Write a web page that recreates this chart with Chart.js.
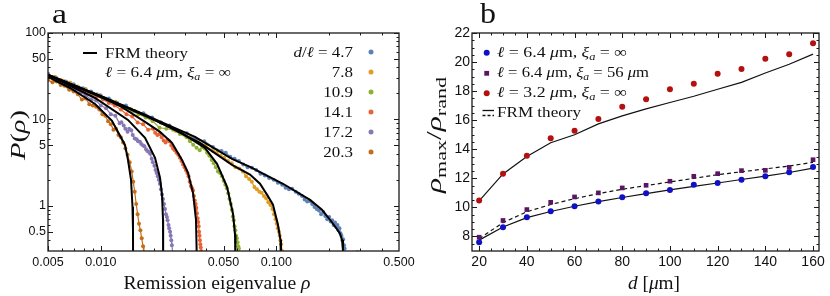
<!DOCTYPE html>
<html><head><meta charset="utf-8">
<script src="https://cdn.jsdelivr.net/npm/chart.js@4.4.1/dist/chart.umd.min.js"></script>
<style>
html,body{margin:0;padding:0;background:#fff;}
#wrap{position:relative;width:830px;height:296px;overflow:hidden;background:#fff;}
canvas{position:absolute;top:0;}
#ca{left:0;} #cb{left:415px;}
</style></head><body>
<div id="wrap"><canvas id="ca" width="415" height="296"></canvas><canvas id="cb" width="415" height="296"></canvas></div>
<script>
// ---------- Panel a : remission eigenvalue distributions ----------
const seriesLabels = ['4.7','7.8','10.9','14.1','17.2','20.3'];
const seriesColors = ['#5E81B5','#E19C24','#8FB032','#EB6235','#8778B3','#C56E1A'];

const rho47 = [0.0050,0.0056,0.0063,0.0070,0.0079,0.0088,0.0099,0.0111,0.0124,0.0139,0.0156,0.0175,0.0196,0.0220,0.0246,0.0276,0.0309,0.0346,0.0388,0.0435,
  0.0487,0.0515,0.0546,0.0578,0.0612,0.0648,0.0686,0.0726,0.0768,0.0812,0.0860,0.091,0.0965,0.102,0.108,0.113,0.118,0.123,0.129,0.134,0.140,0.145,0.150,0.155,0.160,0.165,0.170,0.175,0.180,0.185,0.190,0.195,0.200,0.204,0.208,0.212,0.216,0.220,0.223,0.226,0.229,0.232,0.235,0.238,0.240,0.243,0.245,0.250,0.290];
const p47   = [33.5,30.0,27.5,25.5,23.0,21.0,19.0,17.5,15.5,14.5,12.5,11.8,10.5,9.2,8.5,7.4,6.9,6.0,5.6,4.8,
  4.3,4.1,3.7,3.5,3.3,3.0,2.8,2.75,2.6,2.35,2.25,2.1,2.0,1.85,1.75,1.62,1.55,1.58,1.45,1.38,1.30,1.18,1.12,1.14,1.05,0.97,0.92,0.88,0.80,0.85,0.76,0.70,0.74,0.66,0.68,0.60,0.64,0.57,0.60,0.52,0.55,0.48,0.45,0.40,0.41,0.35,0.32,0.27,0.29];

const rho78 = [0.0050,0.0055,0.0061,0.0067,0.0074,0.0082,0.0090,0.0100,0.0110,0.0121,0.0134,0.0148,0.0163,0.0180,0.0199,0.0219,0.0242,0.0267,0.0294,0.0325,0.0358,0.0395,
  0.0436,0.0458,0.0481,0.0505,0.0530,0.0557,0.0585,0.0615,0.0645,0.0672,0.0700,0.0725,0.0750,0.0775,0.0800,0.0825,0.0850,0.0875,0.0900,0.0925,0.0950,0.0970,0.0990,0.1005,0.1020,0.1035,0.1045,0.1055,0.1065,0.1080];
const p78   = [33.0,31.0,28.0,26.5,24.0,22.5,20.0,18.8,17.0,16.0,14.0,13.2,12.0,11.2,10.0,9.2,8.4,7.4,6.9,6.2,5.6,5.0,
  4.3,4.1,3.8,3.6,3.3,3.1,2.8,2.7,2.5,2.2,2.05,1.9,1.65,1.55,1.45,1.42,1.30,1.22,1.10,1.02,0.92,0.80,0.70,0.62,0.55,0.50,0.45,0.40,0.36,0.30];

const rho109 = [0.0050,0.0055,0.0060,0.0066,0.0072,0.0079,0.0087,0.0095,0.0104,0.0114,0.0125,0.0137,0.0150,0.0164,0.0180,0.0197,0.0216,0.0236,0.0258,0.0282,
  0.0308,0.0322,0.0336,0.0351,0.0366,0.0378,0.0390,0.0403,0.0415,0.0428,0.0440,0.0452,0.0465,0.0478,0.0490,0.0501,0.0512,0.0522,0.0532,0.0541,0.0550,0.0558,0.0565,0.0572,0.0578,0.0584,0.0590,0.0596,0.0602,0.0607,0.0612,0.0620];
const p109   = [32.5,30.5,28.0,26.5,24.0,22.5,20.5,19.5,17.5,16.5,15.0,13.5,12.5,11.5,10.5,9.6,8.0,7.8,7.6,6.8,
  6.2,5.6,5.1,4.7,4.4,4.8,4.6,4.1,3.8,3.4,3.1,2.8,2.5,2.4,2.2,1.95,1.75,1.6,1.40,1.2,1.05,0.9,0.75,0.68,0.58,0.52,0.45,0.42,0.38,0.34,0.32,0.28];

const rho141 = [0.0050,0.0054,0.0059,0.0064,0.0069,0.0075,0.0081,0.0088,0.0095,0.0103,0.0111,0.0120,0.0130,0.0140,0.0151,0.0162,0.0174,0.0186,
  0.0198,0.0204,0.0210,0.0216,0.0222,0.0228,0.0234,0.0240,0.0246,0.0252,0.0258,0.0264,0.0270,0.0276,0.0282,0.0288,0.0294,0.0300,0.0305,0.0311,0.0316,0.0321,0.0326,0.0331,0.0335,0.0339,0.0343,0.0347,0.0350,0.0353,0.0356,0.0359,0.0361,0.0363,0.0365,0.0367,0.0369,0.0371,0.0373,0.0377];
const p141   = [33.5,31.0,28.5,27.0,25.0,22.5,21.5,19.5,18.5,17.0,15.5,14.5,13.0,11.5,10.8,9.2,8.8,7.6,
  7.8,7.0,6.6,6.8,6.2,5.7,5.4,5.8,5.6,5.0,4.6,4.4,4.1,3.9,3.6,3.3,3.0,2.8,2.6,2.4,2.2,1.9,1.7,1.6,1.5,1.3,1.15,1.05,0.95,0.82,0.72,0.65,0.58,0.50,0.45,0.40,0.36,0.33,0.30,0.27];

const rho172 = [0.0050,0.0054,0.0058,0.0062,0.0067,0.0072,0.0077,0.0082,0.0088,0.0094,0.0100,0.0107,0.0114,0.0121,
  0.0128,0.0131,0.0135,0.0138,0.0142,0.0145,0.0149,0.0152,0.0156,0.0160,0.0163,0.0167,0.0170,0.0174,0.0177,0.0181,0.0184,0.0188,0.0191,0.0195,0.0198,0.0202,0.0205,0.0208,0.0211,0.0214,0.0217,0.0220,0.0223,0.0226,0.0229,0.0232,0.0235,0.0238,0.0240,0.0243,0.0245,0.0248,0.0250,0.0252,0.0254,0.0257];
const p172   = [33.0,30.5,28.0,26.5,24.0,22.0,20.5,19.0,17.0,16.5,14.5,13.5,11.5,11.0,
  9.0,9.3,8.5,7.8,7.2,7.8,7.5,6.6,6.0,5.9,5.6,5.5,5.2,5.0,4.9,4.5,4.3,4.2,4.0,3.5,3.2,2.9,2.6,2.4,2.2,2.0,1.8,1.55,1.35,1.2,1.05,0.92,0.80,0.74,0.68,0.60,0.55,0.50,0.45,0.40,0.35,0.28];

const rho203 = [0.0050,0.0053,0.0056,0.0059,0.0062,0.0066,0.0070,0.0074,0.0078,0.0082,0.0086,0.0090,0.0094,0.0098,0.0102,0.0106,0.0110,0.0114,0.0118,0.0122,0.0126,0.0130,0.0134,0.0138,0.0142,0.0146,0.0150,0.0153,0.0156,0.0159,0.0162,0.0165,0.0168,0.0171,0.0174,0.0176];
const p203   = [28.5,27.0,27.5,25.0,24.5,22.0,21.0,19.5,17.0,17.5,15.0,14.5,14.0,13.0,11.5,11.0,9.5,8.8,7.6,7.8,6.6,6.2,5.4,4.6,3.9,3.2,2.5,1.9,1.45,1.05,0.80,0.62,0.52,0.42,0.34,0.28];

// FRM theory curves (panel a)
const thRho47 = [0.005,0.00989,0.01786,0.0344,0.0559,0.0708,0.1091,0.1556,0.182,0.2022,0.2188,0.2306,0.2367,0.2398,0.2402];
const thP47   = [32.7,18.7,11.27,6.28,3.49,2.82,1.80,1.17,0.90,0.69,0.557,0.475,0.404,0.30,0.2];
const thRho78 = [0.005,0.00989,0.01786,0.03673,0.0559,0.0708,0.0807,0.089,0.0957,0.1022,0.1056,0.1063];
const thP78   = [32.7,18.7,11.27,5.35,2.98,2.3,1.80,1.32,1.03,0.60,0.404,0.2];
const thRho109 = [0.005,0.00989,0.01786,0.02753,0.03923,0.04592,0.05236,0.05665,0.05816,0.0585];
const thP109   = [32.7,18.7,10.97,7.36,4.68,3.06,1.66,0.81,0.462,0.2];
const thRho141 = [0.005,0.00989,0.01286,0.01786,0.02174,0.02544,0.02901,0.03139,0.03352,0.03485,0.0353];
const thP141   = [32.7,18.2,14.3,9.35,7.17,5.35,3.40,2.41,1.41,0.69,0.2];
const thRho172 = [0.005,0.00927,0.01428,0.01786,0.02036,0.02174,0.02232,0.02261,0.02265];
const thP172   = [32.7,17.7,9.87,6.11,3.59,2.11,1.34,0.69,0.2];
const thRho203 = [0.005,0.00668,0.00927,0.01158,0.01373,0.01428,0.01486,0.01515,0.01525,0.01527];
const thP203   = [31.0,23.1,15.1,9.61,5.07,3.40,2.00,0.974,0.528,0.2];

const xTicksA = [0.005,0.01,0.05,0.1,0.5];
const xTickLabelsA = ['0.005','0.010','0.050','0.100','0.500'];
const xMinorA = [0.006,0.007,0.008,0.009,0.02,0.03,0.04,0.06,0.07,0.08,0.09,0.2,0.3,0.4];
const yTicksA = [0.5,1,5,10,50,100];
const yTickLabelsA = ['0.5','1','5','10','50','100'];
const yMinorA = [0.4,0.6,0.7,0.8,0.9,2,3,4,6,7,8,9,20,30,40,60,70,80,90];

// ---------- Panel b : rho_max / rho_rand vs d ----------
const dValues = [20,30,40,50,60,70,80,90,100,110,120,130,140,150,160];
const ratioL64     = [7.61,8.64,9.33,9.74,10.08,10.40,10.70,10.97,11.20,11.55,11.68,11.91,12.14,12.41,12.78];
const ratioL64Xi56 = [7.95,9.10,9.85,10.35,10.72,11.00,11.34,11.52,11.80,12.14,12.32,12.53,12.55,12.76,13.28];
const ratioL32     = [10.47,12.32,13.56,14.75,15.27,16.08,16.92,17.45,18.13,18.50,19.19,19.53,20.22,20.54,21.29];
const theoryL64     = [7.75,8.65,9.30,9.72,10.08,10.40,10.68,10.95,11.20,11.45,11.68,11.92,12.15,12.40,12.70];
const theoryL64Xi56 = [7.85,8.95,9.70,10.20,10.60,10.95,11.25,11.50,11.75,12.00,12.25,12.45,12.65,12.85,13.10];
const theoryL32     = [10.45,12.30,13.50,14.45,15.00,15.75,16.30,16.78,17.22,17.65,18.13,18.60,19.25,19.85,20.55];

const xTicksB = [20,40,60,80,100,120,140,160];
const xMinorB = [25,30,35,45,50,55,65,70,75,85,90,95,105,110,115,125,130,135,145,150,155];
const yTicksB = [8,10,12,14,16,18,20,22];
const yMinorB = [7.5,8.5,9,9.5,10.5,11,11.5,12.5,13,13.5,14.5,15,15.5,16.5,17,17.5,18.5,19,19.5,20.5,21,21.5];

// ---------- helpers ----------
const pairs = (xs, ys) => xs.map((x, i) => ({x: x, y: ys[i]}));
const SERIF = '"Liberation Serif", "DejaVu Serif", serif';
const SANS = '"Liberation Sans", Arial, sans-serif';

function rich(ctx, segs, x, y, size, o) {
  o = o || {};
  const sub = size * 0.7;
  const fontOf = s => (s.indexOf('i') >= 0 ? 'italic ' : '') + (s.indexOf('s') >= 0 ? sub : size) + 'px ' + SERIF;
  let w = 0;
  segs.forEach(sg => { ctx.font = fontOf(sg[1] || ''); w += ctx.measureText(sg[0]).width; });
  const sx = o.width ? o.width / w : (o.sx || 1);
  const total = w * sx;
  const x0 = o.align === 'right' ? -total : (o.align === 'center' ? -total / 2 : 0);
  ctx.save();
  ctx.translate(x, y);
  if (o.rotate) ctx.rotate(o.rotate);
  ctx.translate(x0, 0);
  ctx.scale(sx, 1);
  ctx.fillStyle = o.color || '#111';
  ctx.textBaseline = 'alphabetic';
  ctx.textAlign = 'left';
  let cx = 0;
  segs.forEach(sg => {
    const s = sg[1] || '';
    ctx.font = fontOf(s);
    ctx.fillText(sg[0], cx, s.indexOf('s') >= 0 ? size * 0.22 : 0);
    cx += ctx.measureText(sg[0]).width;
  });
  ctx.restore();
}

const frameTicks = {
  id: 'frameTicks',
  afterDatasetsDraw(chart, args, o) {
    const ctx = chart.ctx, a = chart.chartArea;
    const xs = chart.scales.x, ys = chart.scales.y;
    ctx.save();
    ctx.strokeStyle = '#1a1a1a';
    ctx.lineWidth = 1;
    const vt = (vals, len) => vals.forEach(v => {
      const p = Math.round(xs.getPixelForValue(v)) + 0.5;
      if (p < a.left || p > a.right) return;
      ctx.beginPath();
      ctx.moveTo(p, a.bottom); ctx.lineTo(p, a.bottom - len);
      ctx.moveTo(p, a.top); ctx.lineTo(p, a.top + len);
      ctx.stroke();
    });
    const ht = (vals, len) => vals.forEach(v => {
      const p = Math.round(ys.getPixelForValue(v)) + 0.5;
      if (p < a.top || p > a.bottom) return;
      ctx.beginPath();
      ctx.moveTo(a.left, p); ctx.lineTo(a.left + len, p);
      ctx.moveTo(a.right, p); ctx.lineTo(a.right - len, p);
      ctx.stroke();
    });
    vt(o.xMajor, 5); vt(o.xMinor, 2.5);
    ht(o.yMajor, 5); ht(o.yMinor, 2.5);
    ctx.lineWidth = 1.3;
    ctx.strokeRect(a.left, a.top, a.right - a.left, a.bottom - a.top);
    ctx.restore();
  }
};

function fixAxis(size, horizontal) {
  return function (s) {
    if (horizontal) s.height = size; else s.width = size;
    s.paddingLeft = 0; s.paddingRight = 0; s.paddingTop = 0; s.paddingBottom = 0;
  };
}

// ---------- Chart a ----------
const dataRhoA = [rho47, rho78, rho109, rho141, rho172, rho203];
const dataPA = [p47, p78, p109, p141, p172, p203];
const thRhoA = [thRho47, thRho78, thRho109, thRho141, thRho172, thRho203];
const thPA = [thP47, thP78, thP109, thP141, thP172, thP203];

const datasetsA = [];
for (let i = 0; i < seriesLabels.length; i++) {
  datasetsA.push({
    label: 'FRM ' + seriesLabels[i], data: pairs(thRhoA[i], thPA[i]), showLine: true,
    borderColor: '#000', borderWidth: 2, pointRadius: 0, order: 0, clip: 0
  });
}
for (let i = 0; i < seriesLabels.length; i++) {
  datasetsA.push({
    label: 'd/l = ' + seriesLabels[i], data: pairs(dataRhoA[i], dataPA[i]), showLine: true,
    borderColor: seriesColors[i], backgroundColor: seriesColors[i], borderWidth: 1.2,
    pointRadius: 2, pointBorderWidth: 0, pointBackgroundColor: seriesColors[i], order: i + 1, clip: 0
  });
}

const textA = {
  id: 'textA',
  afterDraw(chart) {
    const ctx = chart.ctx;
    rich(ctx, [['a']], 52, 23, 28, {width: 15});
    rich(ctx, [['P','i'],['('],['ρ','i'],[')']], 25, 135, 21, {rotate: -Math.PI / 2, align: 'center', width: 50});
    rich(ctx, [['Remission eigenvalue '],['ρ','i']], 217, 289, 18, {align: 'center', width: 187});
    ctx.save(); ctx.strokeStyle = '#000'; ctx.lineWidth = 2;
    ctx.beginPath(); ctx.moveTo(83, 53); ctx.lineTo(97, 53); ctx.stroke(); ctx.restore();
    rich(ctx, [['FRM theory']], 105, 58, 15, {width: 83});
    rich(ctx, [['ℓ','i'],[' = 6.4 '],['μ','i'],['m, '],['ξ','i'],['a','is'],[' = ∞']], 105, 77, 15, {width: 126});
    rich(ctx, [['d','i'],['/'],['ℓ','i'],[' = ' + seriesLabels[0]]], 353, 57, 15, {align: 'right', sx: 1.13});
    for (let i = 1; i < seriesLabels.length; i++) {
      rich(ctx, [[seriesLabels[i]]], 353, 57 + 20 * i, 15, {align: 'right', sx: 1.13});
    }
    for (let i = 0; i < seriesLabels.length; i++) {
      ctx.save(); ctx.fillStyle = seriesColors[i];
      ctx.beginPath(); ctx.arc(371, 52 + 20 * i, 2.5, 0, Math.PI * 2); ctx.fill(); ctx.restore();
    }
  }
};

new Chart(document.getElementById('ca'), {
  type: 'scatter',
  data: {datasets: datasetsA},
  options: {
    responsive: false, animation: false, devicePixelRatio: 1,
    layout: {padding: {top: 33, right: 16, left: 0, bottom: 0}},
    plugins: {legend: {display: false}, tooltip: {enabled: false},
      frameTicks: {xMajor: xTicksA, xMinor: xMinorA, yMajor: yTicksA, yMinor: yMinorA}},
    scales: {
      x: {type: 'logarithmic', min: 0.005, max: 0.5,
        grid: {display: false, drawTicks: false}, border: {display: false},
        afterBuildTicks: s => { s.ticks = xTicksA.map(v => ({value: v})); },
        afterFit: fixAxis(45, true),
        ticks: {autoSkip: false, maxRotation: 0, minRotation: 0, padding: 4, color: '#111',
          font: {family: SANS, size: 12.5}, callback: (v, i) => xTickLabelsA[i]}},
      y: {type: 'logarithmic', min: 0.3, max: 100,
        grid: {display: false, drawTicks: false}, border: {display: false},
        afterBuildTicks: s => { s.ticks = yTicksA.map(v => ({value: v})); },
        afterFit: fixAxis(48, false),
        ticks: {autoSkip: false, padding: 2, color: '#111',
          font: {family: SANS, size: 12.5}, callback: (v, i) => yTickLabelsA[i]}}
    }
  },
  plugins: [frameTicks, textA]
});

// ---------- Chart b ----------
const colL64 = '#1010c4', colXi = '#5a1660', colL32 = '#b3110f';
const datasetsB = [
  {label: 'FRM l=6.4', data: pairs(dValues, theoryL64), showLine: true, borderColor: '#111', borderWidth: 1.2, pointRadius: 0, order: 2},
  {label: 'FRM xi=56', data: pairs(dValues, theoryL64Xi56), showLine: true, borderColor: '#111', borderWidth: 1.2, borderDash: [4, 3], pointRadius: 0, order: 2},
  {label: 'FRM l=3.2', data: pairs(dValues, theoryL32), showLine: true, borderColor: '#111', borderWidth: 1.2, pointRadius: 0, order: 2},
  {label: 'l=6.4', data: pairs(dValues, ratioL64), showLine: false, pointRadius: 3, pointBorderWidth: 0, pointBackgroundColor: colL64, order: 1},
  {label: 'l=6.4 xi=56', data: pairs(dValues, ratioL64Xi56), showLine: false, pointStyle: 'rect', pointRadius: 3.3, pointBorderWidth: 0, pointBackgroundColor: colXi, order: 1},
  {label: 'l=3.2', data: pairs(dValues, ratioL32), showLine: false, pointRadius: 3, pointBorderWidth: 0, pointBackgroundColor: colL32, order: 1}
];

const textB = {
  id: 'textB',
  afterDraw(chart) {
    const ctx = chart.ctx;
    ctx.save();
    ctx.translate(-415, 0);
    rich(ctx, [['b']], 480, 23, 30, {width: 16});
    rich(ctx, [['ρ','i'],['max','s'],['/'],['ρ','i'],['rand','s']], 441, 135, 22, {rotate: -Math.PI / 2, align: 'center', width: 116});
    rich(ctx, [['d','i'],[' ['],['μ','i'],['m]']], 654, 289, 19, {align: 'center', width: 52});
    // legend symbols
    ctx.fillStyle = colL64; ctx.beginPath(); ctx.arc(486.7, 52.7, 3, 0, Math.PI * 2); ctx.fill();
    ctx.fillStyle = colXi; ctx.fillRect(484.3, 70.9, 4.8, 4.8);
    ctx.fillStyle = colL32; ctx.beginPath(); ctx.arc(486.7, 93.3, 3, 0, Math.PI * 2); ctx.fill();
    ctx.strokeStyle = '#111'; ctx.lineWidth = 1.3;
    ctx.beginPath(); ctx.moveTo(482.5, 110.5); ctx.lineTo(494, 110.5); ctx.stroke();
    ctx.setLineDash([3, 2]);
    ctx.beginPath(); ctx.moveTo(482.5, 115.5); ctx.lineTo(494, 115.5); ctx.stroke();
    ctx.setLineDash([]);
    rich(ctx, [['ℓ','i'],[' = 6.4 '],['μ','i'],['m, '],['ξ','i'],['a','is'],[' = ∞']], 497, 57, 15, {width: 130});
    rich(ctx, [['ℓ','i'],[' = 6.4 '],['μ','i'],['m, '],['ξ','i'],['a','is'],[' = 56 '],['μ','i'],['m']], 497, 77, 15, {width: 152});
    rich(ctx, [['ℓ','i'],[' = 3.2 '],['μ','i'],['m, '],['ξ','i'],['a','is'],[' = ∞']], 497, 97, 15, {width: 130});
    rich(ctx, [['FRM theory']], 497, 117, 15, {width: 84});
    ctx.restore();
  }
};

new Chart(document.getElementById('cb'), {
  type: 'scatter',
  data: {datasets: datasetsB},
  options: {
    responsive: false, animation: false, devicePixelRatio: 1,
    layout: {padding: {top: 33, right: 11, left: 0, bottom: 0}},
    plugins: {legend: {display: false}, tooltip: {enabled: false},
      frameTicks: {xMajor: xTicksB, xMinor: xMinorB, yMajor: yTicksB, yMinor: yMinorB}},
    scales: {
      x: {type: 'linear', min: 17, max: 162.5,
        grid: {display: false, drawTicks: false}, border: {display: false},
        afterBuildTicks: s => { s.ticks = xTicksB.map(v => ({value: v})); },
        afterFit: fixAxis(45, true),
        ticks: {autoSkip: false, maxRotation: 0, minRotation: 0, padding: 3, color: '#111',
          font: {family: SANS, size: 14}, callback: v => String(v)}},
      y: {type: 'linear', min: 7, max: 22,
        grid: {display: false, drawTicks: false}, border: {display: false},
        afterBuildTicks: s => { s.ticks = yTicksB.map(v => ({value: v})); },
        afterFit: fixAxis(57, false),
        ticks: {autoSkip: false, padding: 2, color: '#111',
          font: {family: SANS, size: 14}, callback: v => String(v)}}
    }
  },
  plugins: [frameTicks, textB]
});
</script>
</body></html>
